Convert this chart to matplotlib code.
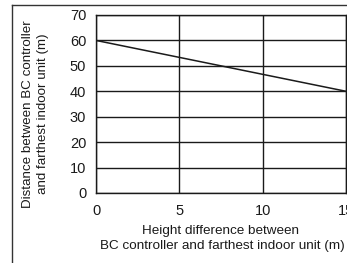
import matplotlib
matplotlib.use('Agg')
import matplotlib.pyplot as plt
from matplotlib.lines import Line2D

# data
height_diff = [0, 15]
distance = [60, 40]
x_ticks = [0, 5, 10, 15]
y_ticks = [0, 10, 20, 30, 40, 50, 60, 70]

W, H = 347, 263
plt.rcParams['font.family'] = ['Liberation Sans', 'DejaVu Sans']
INK = '#1a1a1a'

fig = plt.figure(figsize=(W / 100, H / 100), dpi=100, facecolor='white')
ax = fig.add_axes([96 / W, 1 - 193 / H, 250 / W, 178 / H])

ax.plot(height_diff, distance, color=INK, linewidth=1.1)

ax.set_xlim(0, 15)
ax.set_ylim(0, 70)
ax.set_xticks(x_ticks)
ax.set_yticks(y_ticks)
ax.set_xticklabels([str(v) for v in x_ticks])
ax.grid(True, color=INK, linewidth=1.0)
ax.set_axisbelow(True)
for s in ax.spines.values():
    s.set_color(INK)
    s.set_linewidth(1.0)
ax.tick_params(length=0, labelsize=10.5, colors=INK)
ax.tick_params(axis='y', pad=7)
ax.tick_params(axis='x', pad=8)

fig.text(221 / W, 1 - 231 / H, 'Height difference between',
         ha='center', va='center', fontsize=9.7, color=INK)
fig.text(222 / W, 1 - 246 / H, 'BC controller and farthest indoor unit (m)',
         ha='center', va='center', fontsize=9.7, color=INK)
fig.text(28 / W, 1 - 114 / H, 'Distance between BC controller',
         ha='center', va='center', rotation=90, fontsize=9.6, color=INK)
fig.text(43 / W, 1 - 114 / H, 'and farthest indoor unit (m)',
         ha='center', va='center', rotation=90, fontsize=9.6, color=INK)

# outer frame of the cropped figure
fig.add_artist(Line2D([12 / W, 12 / W], [0, 1 - 5 / H], color='#333333',
                      linewidth=1.0, transform=fig.transFigure))
fig.add_artist(Line2D([12 / W, 1], [1 - 5 / H, 1 - 5 / H], color='#333333',
                      linewidth=1.0, transform=fig.transFigure))

fig.savefig('out.png', dpi=100, facecolor='white')
